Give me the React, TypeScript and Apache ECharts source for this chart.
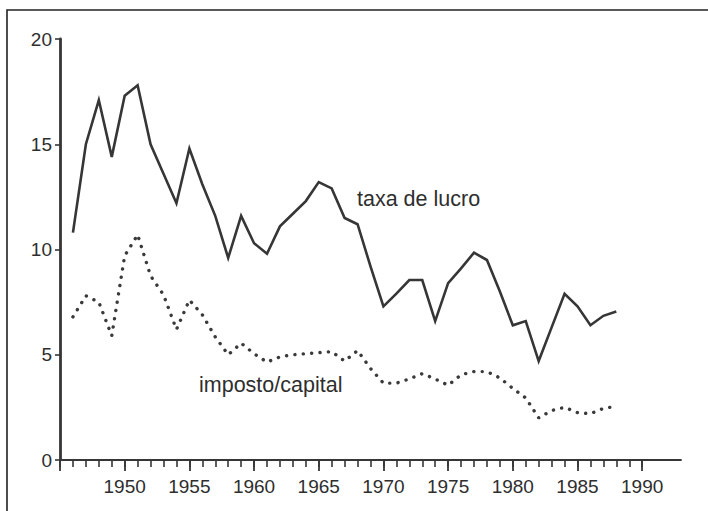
import React, { useEffect, useRef } from "react";
import * as echarts from "echarts";

// Annual observations (x = year)
const years = [
  1946, 1947, 1948, 1949, 1950, 1951, 1952, 1953, 1954, 1955,
  1956, 1957, 1958, 1959, 1960, 1961, 1962, 1963, 1964, 1965,
  1966, 1967, 1968, 1969, 1970, 1971, 1972, 1973, 1974, 1975,
  1976, 1977, 1978, 1979, 1980, 1981, 1982, 1983, 1984, 1985,
  1986, 1987, 1988,
];

// taxa de lucro (solid line)
const profitRate = [
  10.8, 15.0, 17.1, 14.4, 17.3, 17.8, 15.0, 13.6, 12.2, 14.8,
  13.1, 11.6, 9.6, 11.6, 10.3, 9.8, 11.1, 11.7, 12.3, 13.2,
  12.9, 11.5, 11.2, 9.2, 7.3, 7.9, 8.55, 8.55, 6.6, 8.4,
  9.1, 9.85, 9.5, 8.0, 6.4, 6.6, 4.7, 6.3, 7.9, 7.3,
  6.4, 6.85, 7.05,
];

// imposto/capital (dotted line)
const taxCapital = [
  6.8, 7.8, 7.5, 5.9, 9.7, 10.7, 8.75, 7.85, 6.2, 7.6,
  6.9, 5.85, 5.0, 5.55, 5.05, 4.65, 4.9, 5.0, 5.05, 5.1,
  5.15, 4.7, 5.2, 4.35, 3.65, 3.65, 3.85, 4.1, 3.85, 3.55,
  4.05, 4.2, 4.2, 3.9, 3.4, 2.95, 2.0, 2.35, 2.5, 2.25,
  2.2, 2.45, 2.55,
];

const seriesNames = ["taxa de lucro", "imposto/capital"];

// Axis ticks
const xMajorTicks = [1945, 1950, 1955, 1960, 1965, 1970, 1975, 1980, 1985, 1990];
const xTickLabels = [1950, 1955, 1960, 1965, 1970, 1975, 1980, 1985, 1990];
const xMinorTicks = [
  1945, 1946, 1947, 1948, 1949, 1950, 1951, 1952, 1953, 1954,
  1955, 1956, 1957, 1958, 1959, 1960, 1961, 1962, 1963, 1964,
  1965, 1966, 1967, 1968, 1969, 1970, 1971, 1972, 1973, 1974,
  1975, 1976, 1977, 1978, 1979, 1980, 1981, 1982, 1983, 1984,
  1985, 1986, 1987, 1988, 1989, 1990,
];
const xRange = [1945, 1993];
const yRange = [0, 20];
const yStep = 5;

export default function App() {
  const ref = useRef<HTMLDivElement>(null);

  useEffect(() => {
    const el = ref.current;
    if (!el) return;
    const chart = echarts.init(el, null, { renderer: "svg" });
    const font = '"Liberation Sans", Arial, Helvetica, sans-serif';
    const ink = "#363636";
    const gridRect = { left: 60, right: 27, top: 39, bottom: 51 };

    chart.setOption({
      animation: false,
      backgroundColor: "#ffffff",
      grid: [{ ...gridRect }, { ...gridRect }],
      xAxis: [
        {
          type: "value",
          gridIndex: 0,
          min: xRange[0],
          max: xRange[1],
          interval: 5,
          axisLine: { show: true, lineStyle: { color: ink, width: 1.8 } },
          axisTick: {
            show: true,
            customValues: xMinorTicks,
            length: 7,
            lineStyle: { color: ink, width: 1.6 },
          },
          axisLabel: { show: false },
          splitLine: { show: false },
        },
        {
          type: "value",
          gridIndex: 1,
          min: xRange[0],
          max: xRange[1],
          interval: 5,
          axisLine: { show: false },
          axisTick: {
            show: true,
            customValues: xMajorTicks,
            length: 11,
            lineStyle: { color: ink, width: 1.8 },
          },
          axisLabel: {
            show: true,
            customValues: xTickLabels,
            formatter: (v: number) => String(v),
            margin: 17,
            color: "#2e2e2e",
            fontSize: 19,
            fontFamily: font,
          },
          splitLine: { show: false },
        },
      ],
      yAxis: [
        {
          type: "value",
          gridIndex: 0,
          min: yRange[0],
          max: yRange[1],
          interval: yStep,
          axisLine: { show: true, lineStyle: { color: ink, width: 2.8 } },
          axisTick: { show: true, length: 5, lineStyle: { color: ink, width: 1.6 } },
          axisLabel: {
            show: true,
            margin: 8,
            color: "#2e2e2e",
            fontSize: 19,
            fontFamily: font,
          },
          splitLine: { show: false },
        },
        {
          type: "value",
          gridIndex: 1,
          min: yRange[0],
          max: yRange[1],
          show: false,
        },
      ],
      series: [
        {
          name: seriesNames[0],
          type: "line",
          xAxisIndex: 0,
          yAxisIndex: 0,
          data: years.map((y, i) => [y, profitRate[i]]),
          symbol: "none",
          lineStyle: { color: ink, width: 2.6, join: "miter" },
          z: 3,
        },
        {
          name: seriesNames[1],
          type: "line",
          xAxisIndex: 0,
          yAxisIndex: 0,
          data: years.map((y, i) => [y, taxCapital[i]]),
          symbol: "none",
          lineStyle: {
            color: "#3a3a3a",
            width: 3.4,
            type: [0.1, 8.3],
            cap: "round",
          },
          z: 3,
        },
      ],
      graphic: [
        {
          type: "rect",
          silent: true,
          z: -1,
          shape: { x: 7, y: 10, width: 760, height: 560 },
          style: { fill: "none", stroke: "#222", lineWidth: 1.6 },
        },
        {
          type: "text",
          x: 357,
          y: 199,
          style: {
            text: seriesNames[0],
            fill: "#2e2e2e",
            fontSize: 21.5,
            fontFamily: font,
            align: "left",
            verticalAlign: "middle",
          },
        },
        {
          type: "text",
          x: 199,
          y: 385,
          style: {
            text: seriesNames[1],
            fill: "#2e2e2e",
            fontSize: 21.5,
            fontFamily: font,
            align: "left",
            verticalAlign: "middle",
          },
        },
      ],
    });

    return () => {
      chart.dispose();
    };
  }, []);

  return (
    <div
      ref={ref}
      style={{ position: "fixed", left: 0, top: 0, width: 708, height: 511, background: "#fff" }}
    />
  );
}
